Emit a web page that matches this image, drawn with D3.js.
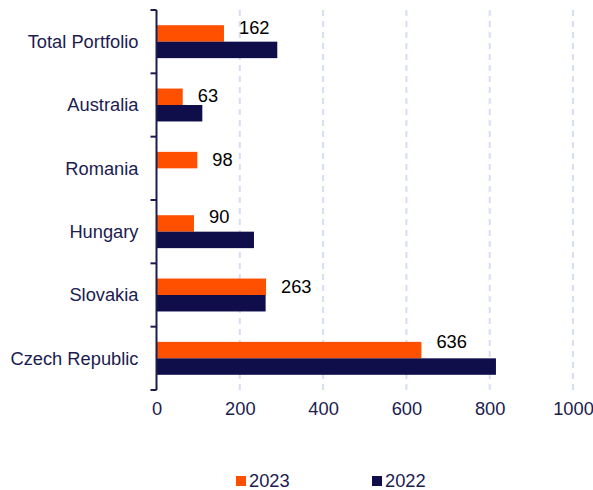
<!DOCTYPE html>
<html>
<head>
<meta charset="utf-8">
<script src="https://cdn.jsdelivr.net/npm/d3@7"></script>
<style>
  body { margin: 0; background: #fff; }
  svg { display: block; font-family: "Liberation Sans", Arial, sans-serif; }
</style>
</head>
<body>
<svg width="593" height="490"></svg>
<script>
// Data
var categories = ['Total Portfolio', 'Australia', 'Romania', 'Hungary', 'Slovakia', 'Czech Republic'];
var years = ['2023', '2022'];
var values2023 = [162, 63, 98, 90, 263, 636];
var values2022 = [290, 110, 0, 234, 262, 815];
var xTicks = [0, 200, 400, 600, 800, 1000];

var colors = {'2023': '#ff5000', '2022': '#0f0d4a'};
var navy = '#1c1c50';
var fontSize = '18.3px';

var svg = d3.select('svg');
var padding = {t: 10, r: 21, b: 100, l: 156.5};
var svgWidth = +svg.attr('width');
var svgHeight = +svg.attr('height');
var chartWidth = svgWidth - padding.l - padding.r;
var chartHeight = svgHeight - padding.t - padding.b;

var chartG = svg.append('g')
    .attr('transform', 'translate(' + [padding.l, padding.t] + ')');

var x = d3.scaleLinear().domain([0, 1000]).range([0, 416.5]);
var y = d3.scaleBand().domain(categories).range([0, chartHeight]);
var yInner = d3.scaleBand().domain(years)
    .range([y.bandwidth() * 0.24, y.bandwidth() * 0.76]);

var rows = categories.map(function(c, i) {
    return {category: c, '2023': values2023[i], '2022': values2022[i]};
});

// dashed vertical gridlines
chartG.selectAll('.grid')
    .data(xTicks.slice(1))
    .enter().append('line')
    .attr('class', 'grid')
    .attr('x1', d => x(d)).attr('x2', d => x(d))
    .attr('y1', 0).attr('y2', chartHeight)
    .attr('stroke', '#d6def4')
    .attr('stroke-width', 2)
    .attr('stroke-dasharray', '6,5');

// x tick labels (no axis line)
var xAxis = d3.axisBottom(x).tickValues(xTicks).tickFormat(d3.format('d'))
    .tickSize(0).tickPadding(12);
var xG = chartG.append('g')
    .attr('transform', 'translate(0,' + chartHeight + ')')
    .call(xAxis);
xG.select('.domain').remove();
xG.selectAll('text')
    .attr('font-size', fontSize)
    .attr('fill', navy)
    .attr('font-family', '"Liberation Sans", Arial, sans-serif');

// bars
var groups = chartG.selectAll('.cat')
    .data(rows)
    .enter().append('g')
    .attr('class', 'cat')
    .attr('transform', d => 'translate(0,' + y(d.category) + ')');

groups.selectAll('rect')
    .data(d => years.map(k => ({year: k, value: d[k]})).filter(e => e.value > 0))
    .enter().append('rect')
    .attr('x', 0)
    .attr('y', d => yInner(d.year))
    .attr('width', d => x(d.value))
    .attr('height', yInner.bandwidth())
    .attr('fill', d => colors[d.year]);

// value labels for 2023, nudged up when they would sit over the 2022 bar
groups.append('text')
    .attr('x', d => x(d['2023']) + 15)
    .attr('y', function(d) {
        var left = x(d['2023']) + 15;
        var overlap = Math.max(0, x(d['2022']) - left);
        return yInner('2023') + yInner.bandwidth() / 2 - overlap * 0.15;
    })
    .attr('dy', '0.35em')
    .attr('font-size', fontSize)
    .attr('fill', '#000')
    .text(d => d['2023']);

// y axis on the left with outward ticks at band edges
var yAxisG = svg.append('g')
    .attr('transform', 'translate(' + [padding.l, padding.t] + ')');
yAxisG.append('line')
    .attr('x1', 0).attr('x2', 0)
    .attr('y1', 0).attr('y2', chartHeight)
    .attr('stroke', navy).attr('stroke-width', 2);
var edges = categories.map(c => y(c)).concat([chartHeight]);
yAxisG.selectAll('.ytick')
    .data(edges)
    .enter().append('line')
    .attr('x1', -6).attr('x2', 0)
    .attr('y1', d => d).attr('y2', d => d)
    .attr('stroke', navy).attr('stroke-width', 2);
yAxisG.selectAll('.ylabel')
    .data(categories)
    .enter().append('text')
    .attr('x', -18)
    .attr('y', d => y(d) + y.bandwidth() / 2)
    .attr('dy', '0.35em')
    .attr('text-anchor', 'end')
    .attr('font-size', fontSize)
    .attr('fill', navy)
    .text(d => d);

// legend
var legendX = {'2023': 236, '2022': 372};
var legend = svg.selectAll('.legend')
    .data(years)
    .enter().append('g')
    .attr('class', 'legend')
    .attr('transform', d => 'translate(' + legendX[d] + ',476)');
legend.append('rect')
    .attr('width', 10).attr('height', 10)
    .attr('fill', d => colors[d]);
legend.append('text')
    .attr('x', 13).attr('y', 5)
    .attr('dy', '0.35em')
    .attr('font-size', fontSize)
    .attr('fill', navy)
    .text(d => d);
</script>
</body>
</html>
